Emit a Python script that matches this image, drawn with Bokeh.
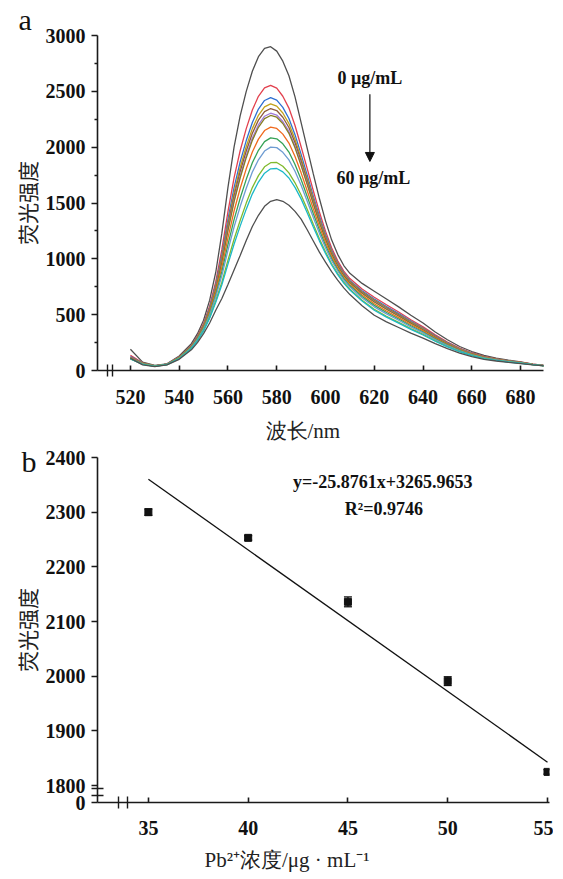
from bokeh.plotting import figure
from bokeh.layouts import column
from bokeh.models import (Range1d, FixedTicker, Label, Arrow, NormalHead, Whisker,
                          ColumnDataSource, TeeHead, Title)
from bokeh.embed import file_html
from bokeh.resources import INLINE

# ---------------- panel a data ----------------
wavelength = [520, 525, 530, 535, 540, 545,
              547.5, 550, 552.5, 555, 557.5, 560, 562.5, 565,
              567.5, 570, 572.5, 575, 577.5, 580, 582.5, 585, 587.5, 590,
              592.5, 595, 597.5, 600, 602.5, 605, 607.5, 610,
              615, 620, 625, 630, 635, 640, 645, 650, 655, 660, 665, 670, 675, 680, 685, 690]

c00 = [190, 75, 45, 60, 130, 240, 330, 450, 630, 880, 1230, 1640, 2000, 2280,
       2500, 2680, 2810, 2885, 2900, 2860, 2770, 2640, 2450, 2220,
       1990, 1760, 1540, 1340, 1170, 1040, 940, 870,
       780, 710, 640, 570, 495, 425, 345, 275, 215, 170, 135, 110, 92, 78, 58, 45]
c05 = [135, 69, 42, 57, 122, 226, 310, 420, 579, 795, 1084, 1423, 1725, 1968,
       2166, 2333, 2455, 2531, 2554, 2528, 2456, 2350, 2194, 2004,
       1808, 1610, 1420, 1248, 1099, 983, 890, 823,
       730, 656, 589, 524, 455, 391, 319, 255, 200, 159, 126, 104, 87, 74, 56, 44]
c10 = [125, 67, 42, 57, 120, 222, 304, 410, 562, 768, 1037, 1353, 1637, 1868,
       2059, 2221, 2341, 2418, 2443, 2421, 2356, 2257, 2112, 1935,
       1749, 1562, 1382, 1218, 1076, 964, 874, 807,
       714, 639, 572, 509, 442, 380, 310, 249, 195, 155, 123, 102, 85, 73, 55, 43]
c15 = [118, 66, 41, 56, 119, 220, 300, 406, 554, 754, 1014, 1318, 1593, 1818,
       2006, 2166, 2285, 2361, 2388, 2368, 2306, 2211, 2071, 1900,
       1720, 1538, 1362, 1203, 1065, 955, 866, 800,
       706, 630, 564, 502, 436, 375, 306, 245, 193, 153, 122, 101, 85, 72, 55, 43]
c20 = [115, 65, 41, 56, 118, 218, 298, 402, 548, 744, 996, 1292, 1560, 1780,
       1966, 2124, 2242, 2319, 2346, 2328, 2268, 2176, 2040, 1874,
       1698, 1520, 1348, 1192, 1056, 948, 860, 794,
       700, 624, 558, 496, 431, 371, 303, 243, 191, 152, 121, 100, 84, 72, 55, 43]
c25 = [112, 64, 41, 56, 117, 216, 296, 398, 542, 734, 978, 1266, 1527, 1743,
       1926, 2082, 2199, 2277, 2304, 2288, 2230, 2141, 2009, 1848,
       1676, 1502, 1334, 1181, 1047, 941, 854, 788,
       694, 618, 552, 490, 426, 367, 300, 241, 189, 151, 120, 99, 83, 71, 55, 43]
c30 = [110, 64, 41, 56, 117, 216, 294, 397, 539, 729, 970, 1253, 1511, 1724,
       1906, 2061, 2178, 2255, 2284, 2268, 2212, 2124, 1994, 1835,
       1665, 1493, 1326, 1175, 1043, 938, 851, 785,
       691, 614, 549, 488, 424, 365, 298, 239, 188, 150, 119, 99, 83, 71, 54, 43]
c35 = [108, 62, 40, 55, 114, 211, 288, 388, 523, 703, 926, 1188, 1428, 1630,
       1806, 1957, 2072, 2149, 2180, 2168, 2117, 2037, 1917, 1770,
       1610, 1448, 1290, 1148, 1022, 920, 836, 771,
       676, 598, 533, 474, 412, 355, 290, 233, 184, 147, 117, 97, 82, 70, 54, 42]
c40 = [106, 60, 39, 54, 112, 208, 283, 379, 509, 679, 885, 1127, 1351, 1543,
       1712, 1860, 1972, 2050, 2083, 2075, 2030, 1956, 1845, 1710,
       1559, 1406, 1257, 1122, 1002, 904, 822, 758,
       662, 583, 519, 461, 401, 345, 283, 228, 180, 143, 114, 95, 80, 69, 53, 42]
c45 = [105, 59, 39, 54, 110, 204, 278, 372, 497, 659, 850, 1075, 1285, 1468,
       1632, 1777, 1887, 1965, 2000, 1996, 1954, 1886, 1784, 1658,
       1516, 1370, 1228, 1100, 985, 891, 810, 747,
       650, 570, 507, 450, 391, 337, 277, 223, 176, 141, 112, 94, 79, 68, 53, 42]
c50 = [104, 56, 38, 53, 108, 199, 270, 360, 476, 625, 791, 988, 1175, 1343,
       1499, 1638, 1745, 1824, 1861, 1863, 1829, 1770, 1681, 1571,
       1443, 1310, 1180, 1063, 956, 868, 790, 728,
       630, 549, 486, 431, 375, 324, 266, 215, 170, 136, 109, 91, 77, 66, 52, 41]
c55 = [103, 55, 37, 52, 106, 197, 267, 355, 468, 611, 768, 953, 1131, 1293,
       1445, 1582, 1688, 1767, 1806, 1809, 1779, 1724, 1640, 1537,
       1413, 1286, 1161, 1048, 945, 858, 782, 720,
       622, 540, 478, 424, 369, 318, 262, 212, 168, 134, 107, 90, 76, 65, 52, 41]
c60 = [110, 50, 35, 50, 100, 185, 250, 330, 425, 540, 645, 770, 900, 1030,
       1165, 1290, 1390, 1470, 1515, 1530, 1515, 1480, 1425, 1355,
       1260, 1160, 1060, 970, 885, 810, 740, 680,
       580, 495, 435, 385, 335, 290, 240, 195, 155, 125, 100, 85, 72, 62, 50, 40]

spectra = [c00, c05, c10, c15, c20, c25, c30, c35, c40, c45, c50, c55, c60]
colors = ["#4f4f4f", "#e2404e", "#2e6fd2", "#c2a21c", "#8e5a3a", "#a07ad8", "#857d22",
          "#f06a1e", "#36a256", "#6e9cd2", "#80ba2e", "#1cb8c8", "#4f4f4f"]

x_ticks_a = [520, 540, 560, 580, 600, 620, 640, 660, 680]
x_break_a = [510.6, 512.6]
y_ticks_a = [0, 500, 1000, 1500, 2000, 2500, 3000]
y_minor_a = [250, 750, 1250, 1750, 2250, 2750]

# ---------------- panel b data ----------------
conc = [35, 40, 45, 50, 55]
intensity = [2300, 2253, 2136, 1991, 1825]
err = [6, 4, 9, 8, 4]
slope = -25.8761
intercept = 3265.9653
x_ticks_b = [35, 40, 45, 50, 55]
x_break_b = [33.5, 33.95]
y_ticks_b = [1769, 1800, 1900, 2000, 2100, 2200, 2300, 2400]
y_break_b = [1781, 1794]

SERIF = "Liberation Serif"
CJK = "Noto Sans CJK SC"
INK = "#1a1a1a"


def style_axes(p):
    p.outline_line_color = None
    p.grid.grid_line_color = None
    for ax in (p.xaxis, p.yaxis):
        ax.axis_line_width = 1.6
        ax.axis_line_color = INK
        ax.major_tick_line_width = 1.6
        ax.major_tick_line_color = INK
        ax.minor_tick_line_width = 1.4
        ax.minor_tick_line_color = INK
        ax.major_label_text_font = SERIF
        ax.major_label_text_font_style = "bold"
        ax.major_label_text_font_size = "20px"
        ax.major_label_text_color = "#111111"
        ax.axis_label_text_font_style = "normal"
        ax.axis_label_text_font_size = "21px"
        ax.axis_label_text_color = "#222222"
    p.yaxis.axis_label_text_font = CJK
    p.xaxis.major_tick_in = 5
    p.xaxis.major_tick_out = 0
    p.xaxis.minor_tick_in = 6
    p.xaxis.minor_tick_out = 6
    p.yaxis.major_tick_in = 0
    p.yaxis.major_tick_out = 6


def bottom_title(text, offset, standoff, size):
    return Title(text=text, align="left", offset=offset, standoff=standoff, text_font=SERIF,
                 text_font_style="normal", text_font_size=size, text_color="#222222")


# ---------------- panel a ----------------
p1 = figure(frame_width=446, frame_height=335,
            x_range=Range1d(506.5, 689.4), y_range=Range1d(0, 3000),
            output_backend="svg", toolbar_location=None, title="a",
            min_border_left=97, min_border_right=10, min_border_top=32, min_border_bottom=125)
style_axes(p1)
p1.title.align = "left"
p1.title.offset = -79
p1.title.standoff = 0
p1.title.text_font = SERIF
p1.title.text_font_style = "normal"
p1.title.text_font_size = "30px"
p1.title.text_color = "#111111"

p1.xaxis.ticker = FixedTicker(ticks=x_ticks_a, minor_ticks=x_break_a)
p1.yaxis.ticker = FixedTicker(ticks=y_ticks_a, minor_ticks=y_minor_a)
p1.yaxis.minor_tick_in = 0
p1.yaxis.minor_tick_out = 3
p1.xaxis.major_label_standoff = 13
p1.yaxis.major_label_standoff = 6
p1.yaxis.axis_label = "荧光强度"
p1.yaxis.axis_label_standoff = 1

for vals, col in zip(spectra, colors):
    p1.line(wavelength, vals, line_color=col, line_width=1.3)

p1.add_layout(Label(x=618.2, y=2618, text="0 μg/mL", text_align="center", text_baseline="middle",
                    text_font=SERIF, text_font_style="bold", text_font_size="18px", text_color="#111111"))
p1.add_layout(Label(x=619.6, y=1722, text="60 μg/mL", text_align="center", text_baseline="middle",
                    text_font=SERIF, text_font_style="bold", text_font_size="18px", text_color="#111111"))
p1.add_layout(Arrow(end=NormalHead(size=9, fill_color="#111111", line_color="#111111"),
                    x_start=618.2, y_start=2474, x_end=618.2, y_end=1872,
                    line_color="#111111", line_width=1.2))

# x title of panel a, then the panel letter "b" just under it
p1.add_layout(bottom_title("波长/nm", 168, 21, "21px"), "below")
p1.add_layout(Title(text="b", align="left", offset=-76, standoff=-22, text_font=SERIF,
                    text_font_style="normal", text_font_size="30px", text_color="#111111"), "below")

# ---------------- panel b ----------------
p2 = figure(frame_width=452, frame_height=345,
            x_range=Range1d(32.45, 55.1), y_range=Range1d(1769, 2400),
            output_backend="svg", toolbar_location=None, title=None,
            min_border_left=97, min_border_right=4, min_border_top=10, min_border_bottom=72)
style_axes(p2)
p2.border_fill_color = None
p2.margin = (-48, 0, 0, 0)
p2.xaxis.ticker = FixedTicker(ticks=x_ticks_b, minor_ticks=x_break_b)
p2.yaxis.ticker = FixedTicker(ticks=y_ticks_b, minor_ticks=y_break_b)
p2.yaxis.major_label_overrides = {1769: "0"}
p2.yaxis.minor_tick_in = 6
p2.yaxis.minor_tick_out = 6
p2.xaxis.major_label_standoff = 12
p2.yaxis.major_label_standoff = 6
p2.yaxis.axis_label = "荧光强度"
p2.yaxis.axis_label_standoff = 1
p2.add_layout(bottom_title("Pb²⁺浓度/μg · mL⁻¹", 107, 16, "21px"), "below")

fit_x = [conc[0], conc[-1]]
fit_y = [slope * x + intercept for x in fit_x]
p2.line(fit_x, fit_y, line_color="#111111", line_width=1.3)

src = ColumnDataSource(dict(x=conc, y=intensity,
                            lo=[v - e for v, e in zip(intensity, err)],
                            hi=[v + e for v, e in zip(intensity, err)]))
p2.add_layout(Whisker(source=src, base="x", lower="lo", upper="hi", line_color="#111111", line_width=1.3,
                      upper_head=TeeHead(size=8, line_color="#111111", line_width=1.3),
                      lower_head=TeeHead(size=8, line_color="#111111", line_width=1.3)))
p2.scatter("x", "y", source=src, marker="square", size=7, fill_color="#111111", line_color="#111111")

p2.add_layout(Label(x=46.75, y=2356, text="y=-25.8761x+3265.9653", text_align="center", text_baseline="middle",
                    text_font=SERIF, text_font_style="bold", text_font_size="18px", text_color="#111111"))
p2.add_layout(Label(x=46.8, y=2306, text="R²=0.9746", text_align="center", text_baseline="middle",
                    text_font=SERIF, text_font_style="bold", text_font_size="18px", text_color="#111111"))

layout = column(p1, p2, spacing=0)
open("out.html", "w").write(file_html(layout, INLINE))
